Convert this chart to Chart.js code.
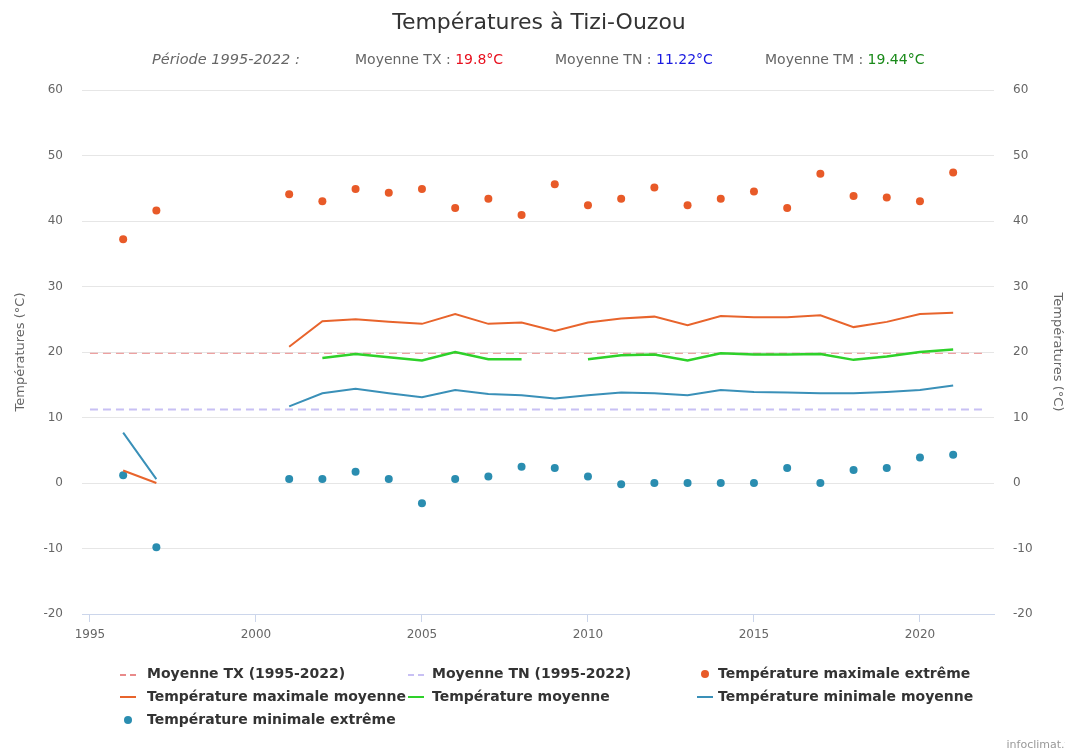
<!DOCTYPE html>
<html>
<head>
<meta charset="utf-8">
<script src="https://cdn.jsdelivr.net/npm/chart.js@4.4.1/dist/chart.umd.min.js"></script>
<style>
  html, body { margin: 0; padding: 0; background: #fff; }
  body { width: 1065px; height: 753px; position: relative; overflow: hidden; font-family: "DejaVu Sans", Verdana, sans-serif; }
  #wrap { position: absolute; left: 0; top: 0; width: 1065px; height: 753px; }
  .abs { position: absolute; white-space: nowrap; }
  #title { left: 0; width: 1078px; top: 9px; text-align: center; font-size: 22px; color: #333; }
  .sub { top: 51px; font-family: "DejaVu Sans", sans-serif; font-size: 14px; color: #666; }
  .leg { font-family: "DejaVu Sans", sans-serif; font-weight: bold; font-size: 14px; color: #333; }
  .sym { position: absolute; }
  #credit { right: -8px; top: 738px; font-size: 11px; color: #999; }
</style>
</head>
<body>
<div id="wrap"><canvas id="c" width="1065" height="753"></canvas></div>
<div id="title" class="abs">Températures à Tizi-Ouzou</div>
<div class="abs sub" style="left:152px;font-style:italic;font-size:14.5px;">Période 1995-2022 :</div>
<div class="abs sub" style="left:355px;">Moyenne TX : <span style="color:#e8101e">19.8°C</span></div>
<div class="abs sub" style="left:555px;">Moyenne TN : <span style="color:#1a1ae0">11.22°C</span></div>
<div class="abs sub" style="left:765px;">Moyenne TM : <span style="color:#1a8a1a">19.44°C</span></div>
<div id="legend"></div>
<div id="credit" class="abs">infoclimat.fr</div>
<script>
// ---- Data ----
const years = [1996,1997,1998,1999,2000,2001,2002,2003,2004,2005,2006,2007,2008,2009,2010,2011,2012,2013,2014,2015,2016,2017,2018,2019,2020,2021];
const tmaxExtreme = [37.2,41.6,null,null,null,44.1,43.0,44.9,44.3,44.9,42.0,43.4,40.9,45.6,42.4,43.4,45.1,42.4,43.4,44.5,42.0,47.2,43.8,43.6,43.0,47.4];
const tmaxMoyenne = [1.9,0.0,null,null,null,20.8,24.7,25.0,24.6,24.3,25.8,24.3,24.5,23.2,24.5,25.1,25.4,24.1,25.5,25.3,25.3,25.6,23.8,24.6,25.8,26.0];
const tMoyenne    = [null,null,null,null,null,null,19.1,19.7,19.2,18.7,20.0,18.9,18.9,null,18.9,19.5,19.6,18.7,19.8,19.6,19.6,19.7,18.8,19.3,20.0,20.4];
const tminMoyenne = [7.7,0.6,null,null,null,11.7,13.7,14.4,13.7,13.1,14.2,13.6,13.4,12.9,13.4,13.8,13.7,13.4,14.2,13.9,13.8,13.7,13.7,13.9,14.2,14.9];
const tminExtreme = [1.2,-9.8,null,null,null,0.6,0.6,1.7,0.6,-3.1,0.6,1.0,2.5,2.3,1.0,-0.2,0.0,0.0,0.0,0.0,2.3,0.0,2.0,2.3,3.9,4.3];
const periodYears = [1995, 2022];
const moyenneTX = [19.8, 19.8];
const moyenneTN = [11.22, 11.22];
const xTicks = [1995, 2000, 2005, 2010, 2015, 2020];
const yTicks = [-20, -10, 0, 10, 20, 30, 40, 50, 60];
const seriesNames = ["Moyenne TX (1995-2022)", "Moyenne TN (1995-2022)", "Température maximale extrême", "Température maximale moyenne", "Température moyenne", "Température minimale moyenne", "Température minimale extrême"];

const pts = (xs, ys) => xs.map((x, i) => ({ x: x, y: ys[i] }));

const C_TMAXEXT = '#e85a28';
const C_TMAX = '#e8642c';
const C_TM = '#2ed12a';
const C_TMIN = '#3a90b8';
const C_TMINEXT = '#2a8db0';
const C_TX = '#e98a8a';
const C_TN = '#c8c0f4';

const datasets = [
  { label: seriesNames[0], data: pts(periodYears, moyenneTX), borderColor: C_TX, borderWidth: 1, borderDash: [8, 5], pointRadius: 0, fill: false, order: 7, _leg: 'dash' },
  { label: seriesNames[1], data: pts(periodYears, moyenneTN), borderColor: C_TN, borderWidth: 2, borderDash: [8, 5], pointRadius: 0, fill: false, order: 6, _leg: 'dash' },
  { label: seriesNames[2], data: pts(years, tmaxExtreme), showLine: false, pointRadius: 4, pointBackgroundColor: C_TMAXEXT, pointBorderWidth: 0, borderColor: C_TMAXEXT, _leg: 'dot' },
  { label: seriesNames[3], data: pts(years, tmaxMoyenne), borderColor: C_TMAX, borderWidth: 2, pointRadius: 0, spanGaps: false, _leg: 'line' },
  { label: seriesNames[4], data: pts(years, tMoyenne), borderColor: C_TM, borderWidth: 2.5, pointRadius: 0, spanGaps: false, _leg: 'line' },
  { label: seriesNames[5], data: pts(years, tminMoyenne), borderColor: C_TMIN, borderWidth: 2, pointRadius: 0, spanGaps: false, _leg: 'line' },
  { label: seriesNames[6], data: pts(years, tminExtreme), showLine: false, pointRadius: 4, pointBackgroundColor: C_TMINEXT, pointBorderWidth: 0, borderColor: C_TMINEXT, _leg: 'dot' }
];

const tickFont = { family: "'DejaVu Sans', Verdana, sans-serif", size: 12 };
const titleFont = { family: "'DejaVu Sans', Verdana, sans-serif", size: 13 };

const chart = new Chart(document.getElementById('c'), {
  type: 'line',
  data: { datasets: datasets },
  options: {
    responsive: false,
    animation: false,
    events: [],
    layout: { padding: { top: 90, bottom: 103, left: 0, right: 0 } },
    plugins: { legend: { display: false }, title: { display: false }, tooltip: { enabled: false } },
    elements: { line: { tension: 0, borderCapStyle: 'butt' } },
    scales: {
      x: {
        type: 'linear', min: 1994.76, max: 2022.23,
        afterBuildTicks: s => { s.ticks = xTicks.map(v => ({ value: v })); },
        afterFit: s => { s.height = 36; },
        ticks: { color: '#666', font: tickFont, padding: 6, maxRotation: 0, callback: v => String(v) },
        grid: { display: true, drawOnChartArea: false, drawTicks: true, tickLength: 8, color: '#ccd6eb', lineWidth: 1 },
        border: { display: true, color: '#ccd6eb', width: 1 }
      },
      y: {
        position: 'left', min: -20, max: 60,
        afterBuildTicks: s => { s.ticks = yTicks.map(v => ({ value: v })); },
        afterFit: s => { s.width = 82; },
        ticks: { color: '#666', font: tickFont, padding: 19 },
        grid: { color: '#e6e6e6', drawTicks: false, lineWidth: 1 },
        border: { display: false },
        title: { display: true, text: 'Températures (°C)', color: '#666', font: titleFont, padding: { top: 13, bottom: 0 } }
      },
      y2: {
        position: 'right', min: -20, max: 60,
        afterBuildTicks: s => { s.ticks = yTicks.map(v => ({ value: v })); },
        afterFit: s => { s.width = 71; },
        ticks: { color: '#666', font: tickFont, padding: 19 },
        grid: { display: false, drawTicks: false },
        border: { display: false },
        title: { display: true, text: 'Températures (°C)', color: '#666', font: titleFont, padding: { top: 0, bottom: 0 } }
      }
    }
  }
});

// ---- HTML legend built from the datasets ----
const legPos = [
  [120, 665], [408, 665], [697, 665],
  [120, 688], [408, 688], [697, 688],
  [120, 711]
];
const legEl = document.getElementById('legend');
chart.data.datasets.forEach((ds, i) => {
  const [lx, ly] = legPos[i];
  const item = document.createElement('div');
  item.className = 'abs leg';
  item.style.left = lx + 'px';
  item.style.top = ly + 'px';
  item.style.height = '18px';
  const sym = document.createElement('div');
  sym.className = 'sym';
  if (ds._leg === 'dash') {
    sym.style.cssText = 'position:absolute;left:0;top:9px;width:16px;height:0;border-top:2px dashed ' + ds.borderColor + ';';
  } else if (ds._leg === 'line') {
    sym.style.cssText = 'position:absolute;left:0;top:8px;width:16px;height:2px;background:' + ds.borderColor + ';';
  } else {
    sym.style.cssText = 'position:absolute;left:4px;top:5px;width:8px;height:8px;border-radius:50%;background:' + ds.pointBackgroundColor + ';';
  }
  const txt = document.createElement('span');
  txt.textContent = ds.label;
  txt.style.cssText = 'position:absolute;left:' + (i === 0 || i === 3 || i === 6 ? 27 : (i === 1 || i === 4 ? 24 : 21)) + 'px;top:0;';
  item.appendChild(sym);
  item.appendChild(txt);
  legEl.appendChild(item);
});
</script>
</body>
</html>
